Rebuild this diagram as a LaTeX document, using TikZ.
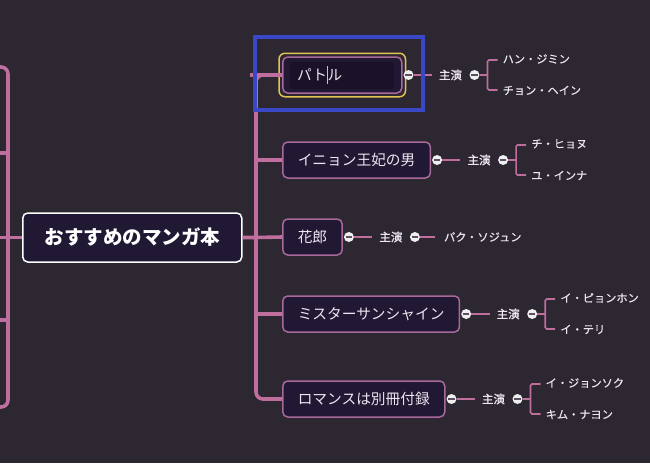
\documentclass[tikz,border=0pt]{standalone}
\usepackage{fontspec}
\setmainfont{Noto Sans CJK JP}
\newfontfamily\rolefont{Noto Sans CJK JP}[FakeBold=1.2]
\newfontfamily\namefont{Noto Sans CJK JP}[FakeBold=0.4]
\usetikzlibrary{fit,calc}
\definecolor{bg}{HTML}{2C2731}
\definecolor{branch}{HTML}{C06E9E}
\definecolor{nodefill}{HTML}{211833}
\definecolor{nodeborder}{HTML}{A8689A}
\definecolor{txt}{HTML}{ECE6F0}
\definecolor{hl}{HTML}{3A48C8}
\definecolor{sel}{HTML}{E2C455}
\definecolor{btnc}{HTML}{EFEFEF}
\definecolor{minusc}{HTML}{5A5060}
\definecolor{field}{HTML}{1A1229}
\definecolor{cursorc}{HTML}{C8C0D8}
\begin{document}
\begin{tikzpicture}[x=1pt,y=-1pt,
  mainline/.style={draw=branch, line width=3.6pt, rounded corners=7pt},
  subline/.style={draw=branch, line width=1.6pt},
  rootbox/.style={draw=white, line width=1.5pt, fill=nodefill, rounded corners=5pt,
    minimum width=219pt, minimum height=49pt, inner sep=0pt,
    font=\fontsize{19.5}{22}\selectfont\bfseries, text=white, anchor=west},
  childbox/.style={draw=nodeborder, line width=1.5pt, fill=nodefill, rounded corners=5pt,
    minimum height=36pt, inner xsep=15pt, inner ysep=0pt,
    font=\fontsize{14.7}{17}\selectfont, text=txt, anchor=west},
  rolelbl/.style={font=\rolefont\fontsize{11.5}{13}\selectfont, text=txt, inner xsep=7pt},
  namelbl/.style={font=\namefont\fontsize{11.2}{13}\selectfont, text=txt, inner sep=0pt, anchor=west},
  btn/.style={circle, fill=btnc, minimum size=10pt, inner sep=0pt,
    path picture={\draw[minusc, line width=1.3pt]
      ([xshift=-3.2pt]path picture bounding box.center) --
      ([xshift=3.2pt]path picture bounding box.center);}}
]
\useasboundingbox (0,0) rectangle (650,463);
\fill[bg] (0,0) rectangle (650,463);
\clip (0,0) rectangle (650,463);

% root
\node[rootbox] (root) at (22,237.5) {おすすめのマンガ本};

% left branch (partly off canvas)
\draw[mainline] (-8,67) -- (8,67) -- (8,407) -- (-8,407);
\draw[mainline] (-8,153) -- (8,153);
\draw[mainline] (-8,320) -- (8,320);
\draw[mainline] (-8,237.5) -- (root.west);

% children
\node[childbox, minimum width=119pt] (b1) at (282,75) {};
\node[childbox] (b2) at (282,160) {イニョン王妃の男};
\node[childbox] (b3) at (282,237) {花郎};
\node[childbox] (b4) at (282,314) {ミスターサンシャイン};
\node[childbox] (b5) at (282,399) {ロマンスは別冊付録};

% inner editing field of selected node, with its text and cursor
\fill[field, rounded corners=3pt] (290,62) rectangle (394,89);
\node[anchor=west, inner sep=0pt, font=\fontsize{14.7}{17}\selectfont, text=txt] (b1t) at (297,75) {パト\textcolor{cursorc}{\rule[-0.22em]{0.7pt}{1.2em}}ル};
\node[fit=(b1), inner sep=3pt, draw=sel, line width=1.5pt, rounded corners=6pt] (b1sel) {};

% right main branch
\draw[mainline] (250,75) -- (b1.west);
\draw[mainline] (b1.west) -- (256,75) -- (256,399) -- (b5.west);
\draw[mainline] (256,160) -- (b2.west);
\draw[mainline] (root.east) -- (256,237.5) -- (b3.west);
\draw[mainline] (256,314) -- (b4.west);

% role lines
\foreach \i in {1,...,5} {
  \node[btn] (c\i) at ([xshift=6pt]b\i.east) {};
  \node[rolelbl] (r\i) at ([xshift=48pt]b\i.east) {主演};
  \node[btn] (d\i) at ([xshift=72pt]b\i.east) {};
  \draw[subline] (c\i) -- (r\i.west);
}

% actors with two names
\foreach \i/\na/\nb in {1/ハン・ジミン/チョン・ヘイン, 2/チ・ヒョヌ/ユ・インナ, 4/イ・ピョンホン/イ・テリ, 5/イ・ジョンソク/キム・ナヨン} {
  \coordinate (k\i) at ([xshift=85pt]b\i.east);
  \draw[subline] (d\i) -- (k\i);
  \draw[subline, rounded corners=1.5pt] ([xshift=10pt,yshift=15pt]k\i) -- ([yshift=15pt]k\i) -- ([yshift=-15pt]k\i) -- ([xshift=10pt,yshift=-15pt]k\i);
  \node[namelbl] (na\i) at ([xshift=15pt,yshift=16pt]k\i) {\na};
  \node[namelbl] (nb\i) at ([xshift=15pt,yshift=-15.5pt]k\i) {\nb};
}

% single actor
\node[namelbl] (na3) at ([xshift=101pt]b3.east) {パク・ソジュン};
\draw[subline] (d3) -- ([xshift=-9pt]na3.west);

% selection highlight
\draw[hl, line width=4pt] (255,37) rectangle (423,110);
\end{tikzpicture}
\end{document}
